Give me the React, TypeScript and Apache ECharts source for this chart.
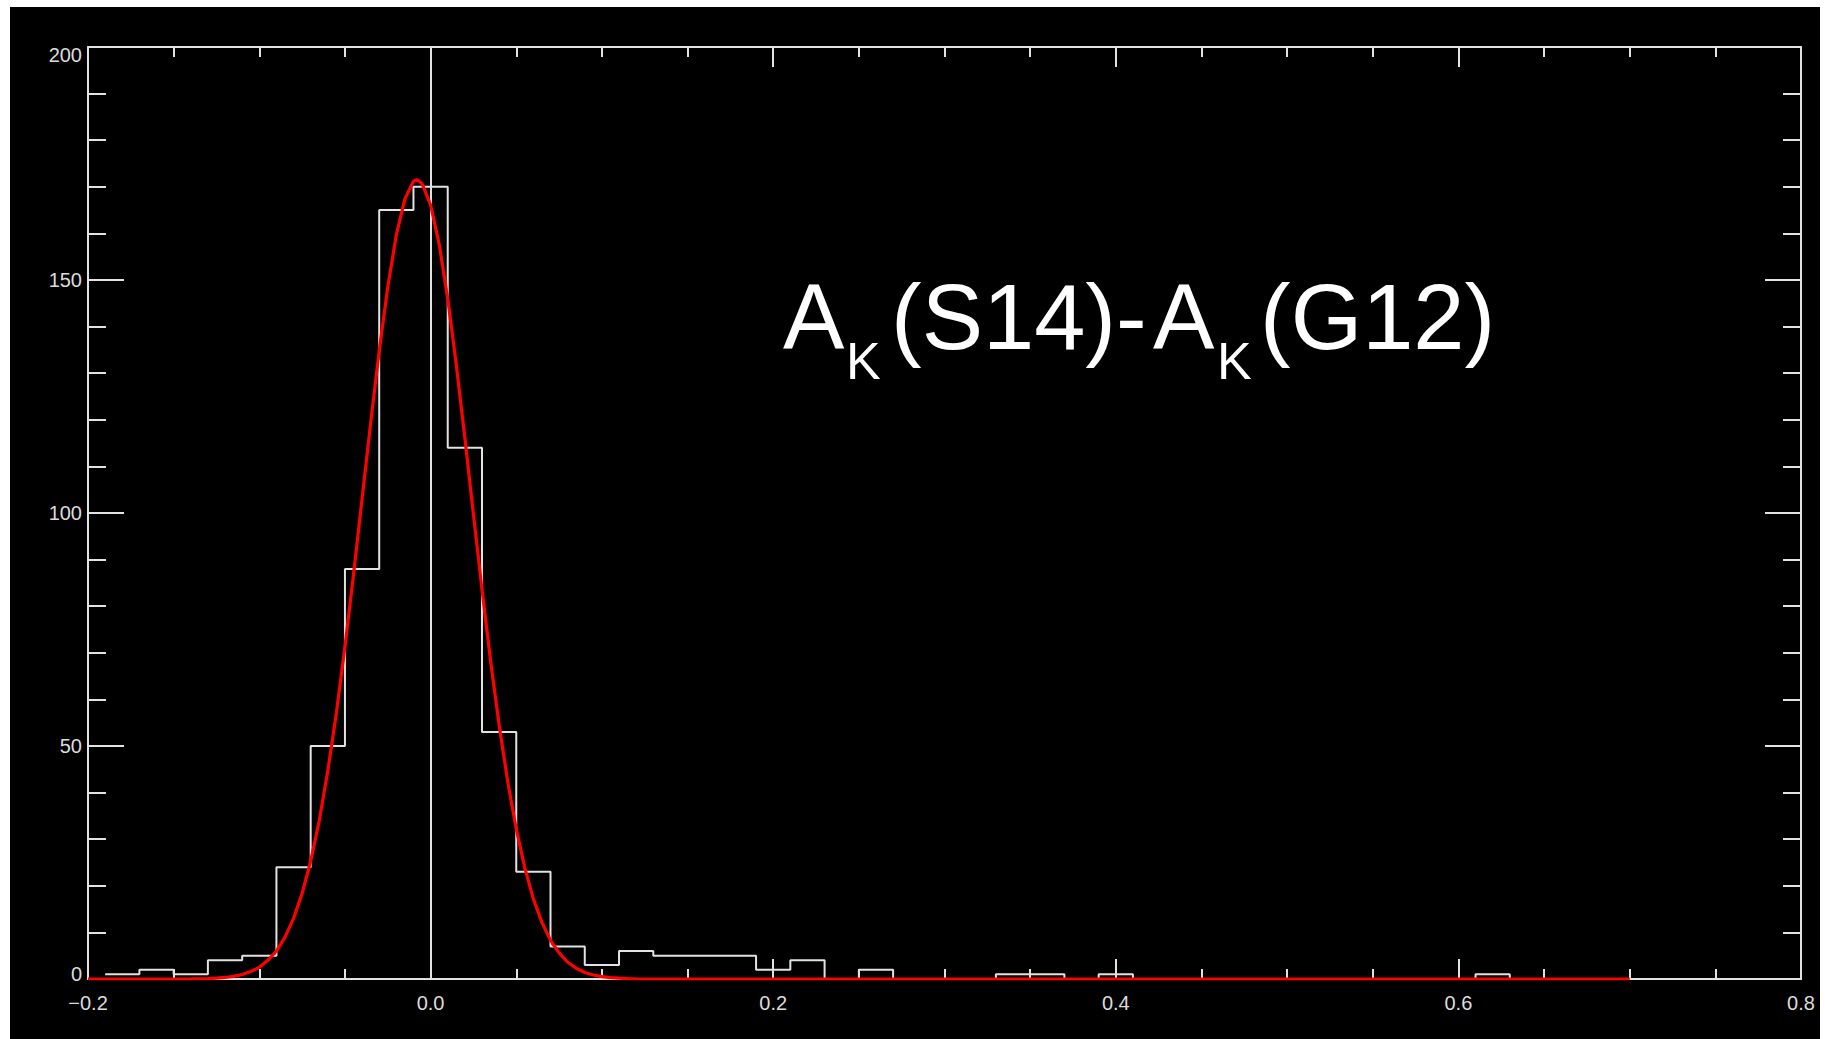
import React, { useEffect, useRef } from "react";
import * as echarts from "echarts";

// Histogram bins (centre of each 0.02-wide bin) and counts
const binCenters = [
  -0.18, -0.16, -0.14, -0.12, -0.1, -0.08, -0.06, -0.04, -0.02, 0.0,
  0.02, 0.04, 0.06, 0.08, 0.1, 0.12, 0.14, 0.16, 0.18, 0.2,
  0.22, 0.24, 0.26, 0.28, 0.3, 0.32, 0.34, 0.36, 0.38, 0.4,
  0.42, 0.44, 0.46, 0.48, 0.5, 0.52, 0.54, 0.56, 0.58, 0.6,
  0.62, 0.64, 0.66, 0.68,
];
const binCounts = [
  1, 2, 1, 4, 5, 24, 50, 88, 165, 170,
  114, 53, 23, 7, 3, 6, 5, 5, 5, 2,
  4, 0, 2, 0, 0, 0, 1, 1, 0, 1,
  0, 0, 0, 0, 0, 0, 0, 0, 0, 0,
  1, 0, 0, 0,
];
const binWidth = 0.02;

// Red fitted curve
const fitX = [
  -0.2, -0.15, -0.14, -0.13, -0.125, -0.12, -0.115, -0.11, -0.105, -0.1,
  -0.095, -0.09, -0.085, -0.08, -0.075, -0.07, -0.065, -0.06, -0.055, -0.05,
  -0.045, -0.04, -0.035, -0.03, -0.025, -0.02, -0.015, -0.01, -0.008, -0.005,
  0.0, 0.005, 0.01, 0.015, 0.02, 0.025, 0.03, 0.035, 0.04, 0.045,
  0.05, 0.055, 0.06, 0.065, 0.07, 0.075, 0.08, 0.085, 0.09, 0.095,
  0.1, 0.105, 0.11, 0.115, 0.12, 0.13, 0.7,
];
const fitY = [
  0, 0, 0.02, 0.1, 0.19, 0.33, 0.57, 0.96, 1.6, 2.5,
  4.0, 6.0, 9.0, 13.0, 18.4, 25.3, 34.0, 44.7, 57.1, 71.3,
  86.8, 103.1, 119.3, 134.8, 148.5, 159.7, 167.4, 171.2, 171.5, 170.7,
  166.1, 157.7, 146.0, 131.8, 116.1, 99.7, 83.6, 68.3, 54.5, 42.4,
  32.2, 23.8, 17.2, 12.1, 8.3, 5.6, 3.6, 2.3, 1.4, 0.87,
  0.5, 0.3, 0.17, 0.09, 0.05, 0, 0,
];

// Axis ranges / ticks
const xRange = [-0.2, 0.8];
const xInterval = 0.2;
const yRange = [0, 200];
const yInterval = 50;
const zeroLineX = 0;

// Annotation pieces: [text, isSubscript]
const titlePieces: [string, boolean][] = [
  ["A", false],
  ["K", true],
  ["(S14)-", false],
  ["A", false],
  ["K", true],
  ["(G12)", false],
];

const FG = "#e2e2e2";
const RED = "#ff0000";

export default function App() {
  const ref = useRef<HTMLDivElement>(null);

  useEffect(() => {
    if (!ref.current) return;
    const chart = echarts.init(ref.current, undefined, { renderer: "svg" });

    const histData: number[][] = binCenters.map((c, i) => [
      c - binWidth / 2,
      binCounts[i],
    ]);
    histData.push([
      binCenters[binCenters.length - 1] + binWidth / 2,
      binCounts[binCounts.length - 1],
    ]);
    const fitData = fitX.map((x, i) => [x, fitY[i]]);

    const fmtX = (v: number) => {
      const s = Math.abs(v).toFixed(1);
      return v < -1e-9 ? "\u2212" + s : s;
    };
    const fmtY = (v: number) => {
      if (v === yRange[1]) return `{lo|${v}}`;
      if (v === yRange[0]) return `{hi|${v}}`;
      return `${v}`;
    };

    const labelFont = {
      color: "#dcdcdc",
      fontSize: 20,
      fontFamily: "Liberation Sans",
    };

    const mkX = (pos: "bottom" | "top", labels: boolean) => ({
      type: "value",
      position: pos,
      min: xRange[0],
      max: xRange[1],
      interval: xInterval,
      axisLine: { show: true, onZero: false, lineStyle: { color: FG, width: 2 } },
      axisTick: { show: true, inside: true, length: 20, lineStyle: { color: FG, width: 2 } },
      minorTick: { show: true, splitNumber: 4, length: 10, lineStyle: { color: FG, width: 2 } },
      splitLine: { show: false },
      minorSplitLine: { show: false },
      axisLabel: labels
        ? { show: true, margin: 14, formatter: fmtX, showMinLabel: true, showMaxLabel: true, ...labelFont }
        : { show: false },
    });
    const mkY = (pos: "left" | "right", labels: boolean) => ({
      type: "value",
      position: pos,
      min: yRange[0],
      max: yRange[1],
      interval: yInterval,
      axisLine: { show: true, onZero: false, lineStyle: { color: FG, width: 2 } },
      axisTick: { show: true, inside: true, length: 36, lineStyle: { color: FG, width: 2 } },
      minorTick: { show: true, splitNumber: 5, length: 18, lineStyle: { color: FG, width: 2 } },
      splitLine: { show: false },
      minorSplitLine: { show: false },
      axisLabel: labels
        ? {
            show: true,
            margin: 6,
            showMinLabel: true,
            showMaxLabel: true,
            formatter: fmtY,
            ...labelFont,
            rich: {
              lo: { ...labelFont, padding: [16, 0, 0, 0] },
              hi: { ...labelFont, padding: [0, 0, 10, 0] },
            },
          }
        : { show: false },
    });

    // annotation layout
    const mainSize = 92;
    const subSize = 52;
    const pieceX = [773, 836, 881, 1143, 1207, 1250];
    const titleGraphics = titlePieces.map(([t, sub], i) => ({
      type: "text",
      x: pieceX[i],
      y: sub ? 354 : 310,
      silent: true,
      style: {
        text: t,
        fill: "#ffffff",
        font: `${sub ? subSize : mainSize}px "Liberation Sans"`,
        textAlign: "left",
        textVerticalAlign: "middle",
      },
    }));

    chart.setOption({
      animation: false,
      backgroundColor: "#000000",
      grid: { left: 78, right: 19, top: 40, bottom: 60, containLabel: false },
      xAxis: [mkX("bottom", true), mkX("top", false)],
      yAxis: [mkY("left", true), mkY("right", false)],
      series: [
        {
          type: "line",
          name: "histogram",
          xAxisIndex: 0,
          yAxisIndex: 0,
          data: histData,
          step: "end",
          showSymbol: false,
          symbol: "none",
          lineStyle: { color: FG, width: 2 },
          silent: true,
          markLine: {
            silent: true,
            symbol: ["none", "none"],
            label: { show: false },
            lineStyle: { color: FG, width: 2, type: "solid" },
            data: [{ xAxis: zeroLineX }],
          },
        },
        {
          type: "line",
          name: "fit",
          xAxisIndex: 0,
          yAxisIndex: 0,
          data: fitData,
          showSymbol: false,
          symbol: "none",
          smooth: false,
          lineStyle: { color: RED, width: 3.2 },
          silent: true,
          z: 5,
        },
      ],
      graphic: titleGraphics,
    });

    return () => chart.dispose();
  }, []);

  return (
    <div
      style={{
        position: "absolute",
        left: 0,
        top: 0,
        width: 1831,
        height: 1039,
        background: "#ffffff",
        overflow: "hidden",
      }}
    >
      <div
        ref={ref}
        style={{ position: "absolute", left: 10, top: 7, width: 1810, height: 1032 }}
      />
    </div>
  );
}
